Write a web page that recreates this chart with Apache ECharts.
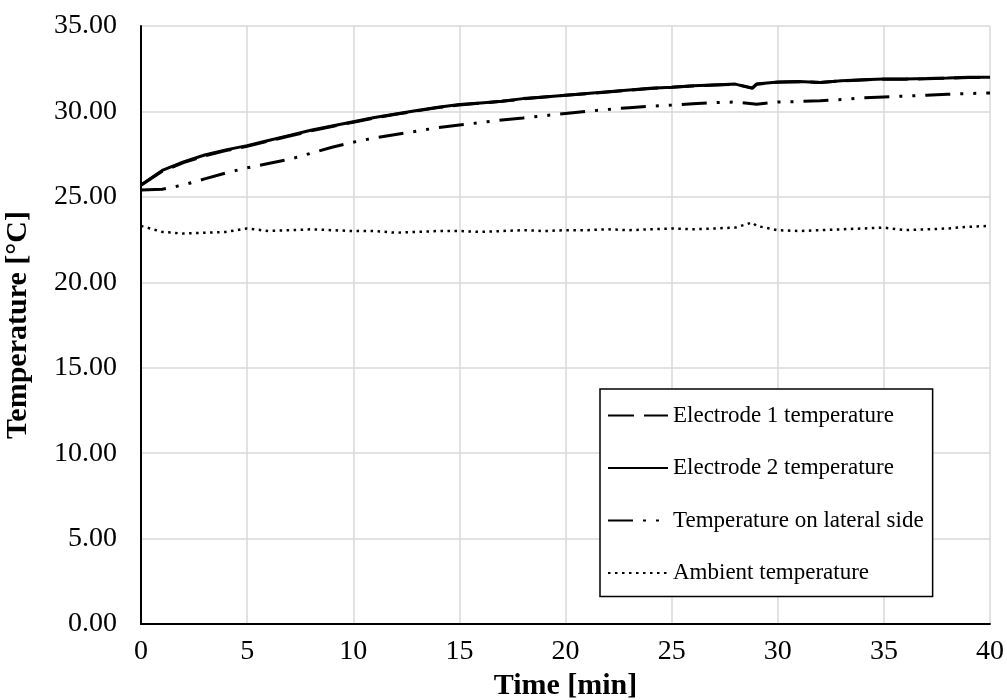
<!DOCTYPE html>
<html>
<head>
<meta charset="utf-8">
<script src="https://cdn.jsdelivr.net/npm/echarts@6/dist/echarts.min.js"></script>
<style>html,body{margin:0;padding:0;background:#fff;}#c{width:1007px;height:700px;}</style>
</head>
<body>
<div id="c"></div>
<script>
const timeMin = [0,1,2,3,4,5,6,7,8,9,10,11,12,13,14,15,16,17,18,19,20,21,22,23,24,25,26,27,28,28.8,29,30,31,32,33,34,35,36,37,38,39,40];
const electrode1 = [25.68,26.50,27.00,27.40,27.71,27.96,28.26,28.56,28.86,29.12,29.37,29.62,29.83,30.03,30.23,30.38,30.49,30.59,30.73,30.84,30.94,31.04,31.14,31.24,31.34,31.41,31.49,31.54,31.59,31.38,31.59,31.71,31.74,31.70,31.79,31.84,31.89,31.89,31.91,31.94,31.99,31.99];
const electrode2 = [25.70,26.55,27.05,27.45,27.75,28.00,28.30,28.60,28.90,29.15,29.40,29.65,29.85,30.05,30.25,30.40,30.50,30.60,30.75,30.85,30.95,31.05,31.15,31.25,31.35,31.42,31.50,31.55,31.60,31.35,31.60,31.72,31.75,31.70,31.80,31.85,31.90,31.90,31.92,31.95,32.00,32.00];
const lateral = [25.40,25.45,25.70,26.05,26.40,26.70,26.95,27.20,27.55,27.90,28.20,28.45,28.65,28.85,29.05,29.20,29.35,29.50,29.62,29.75,29.88,30.00,30.12,30.22,30.30,30.37,30.45,30.52,30.55,30.45,30.42,30.55,30.58,30.62,30.70,30.80,30.85,30.90,30.95,31.00,31.05,31.08];
const ambient = [23.30,22.95,22.85,22.90,22.95,23.15,23.00,23.05,23.10,23.05,23.00,23.00,22.90,22.95,23.00,23.00,22.95,23.00,23.05,23.00,23.05,23.05,23.10,23.05,23.10,23.15,23.10,23.15,23.20,23.50,23.30,23.05,23.00,23.05,23.10,23.15,23.20,23.05,23.10,23.15,23.25,23.30];
const seriesNames = ['Electrode 1 temperature','Electrode 2 temperature','Temperature on lateral side','Ambient temperature'];
const yTicks = [0,5,10,15,20,25,30,35];

const pair = arr => timeMin.map((t,i)=>[t,arr[i]]);
const font = 'Liberation Serif, Times New Roman, serif';
const chart = echarts.init(document.getElementById('c'), null, {renderer:'canvas'});
chart.setOption({
  animation:false,
  backgroundColor:'#fff',
  grid:{left:141,right:17,top:26,bottom:76,containLabel:false,outerBoundsMode:'none'},
  xAxis:{
    type:'value',min:0,max:40,interval:5,
    name:'Time [min]',nameLocation:'middle',nameGap:44,
    nameTextStyle:{fontFamily:font,fontSize:30,fontWeight:'bold',color:'#000'},
    axisLine:{show:true,lineStyle:{color:'#000',width:2}},
    axisTick:{show:false},
    axisLabel:{fontFamily:font,fontSize:28,color:'#000',margin:14},
    splitLine:{show:true,lineStyle:{color:'#d9d9d9',width:1.5}}
  },
  yAxis:{
    type:'value',min:0,max:35,interval:5,
    name:'Temperature [°C]',nameLocation:'middle',nameGap:108,
    nameTextStyle:{fontFamily:font,fontSize:30,fontWeight:'bold',color:'#000'},
    axisLine:{show:true,lineStyle:{color:'#000',width:2}},
    axisTick:{show:false},
    axisLabel:{fontFamily:font,fontSize:28,color:'#000',margin:24,formatter:v=>yTicks.includes(v)?v.toFixed(2):''},
    splitLine:{show:true,lineStyle:{color:'#d9d9d9',width:1.5}}
  },
  legend:{
    data:seriesNames,
    orient:'vertical',left:600,top:389,
    backgroundColor:'#fff',
    borderColor:'#000',borderWidth:1.5,borderRadius:0,
    padding:[15,9,12,7],
    itemGap:29.5,itemWidth:60,itemHeight:22,
    itemStyle:{opacity:0,borderWidth:0},
    textStyle:{fontFamily:font,fontSize:23,color:'#000',lineHeight:22}
  },
  series:[
    {name:seriesNames[0],type:'line',data:pair(electrode1),symbol:'none',z:2,
     lineStyle:{color:'#000',width:3,type:[26,10]},itemStyle:{color:'#000'}},
    {name:seriesNames[1],type:'line',data:pair(electrode2),symbol:'none',z:3,
     lineStyle:{color:'#000',width:3,type:'solid'},itemStyle:{color:'#000'}},
    {name:seriesNames[2],type:'line',data:pair(lateral),symbol:'none',z:2,
     lineStyle:{color:'#000',width:3,type:[25,10,3,10,3,10]},itemStyle:{color:'#000'}},
    {name:seriesNames[3],type:'line',data:pair(ambient),symbol:'none',z:2,
     lineStyle:{color:'#000',width:2.5,type:[2.5,4.5]},itemStyle:{color:'#000'}}
  ]
});
</script>
</body>
</html>
